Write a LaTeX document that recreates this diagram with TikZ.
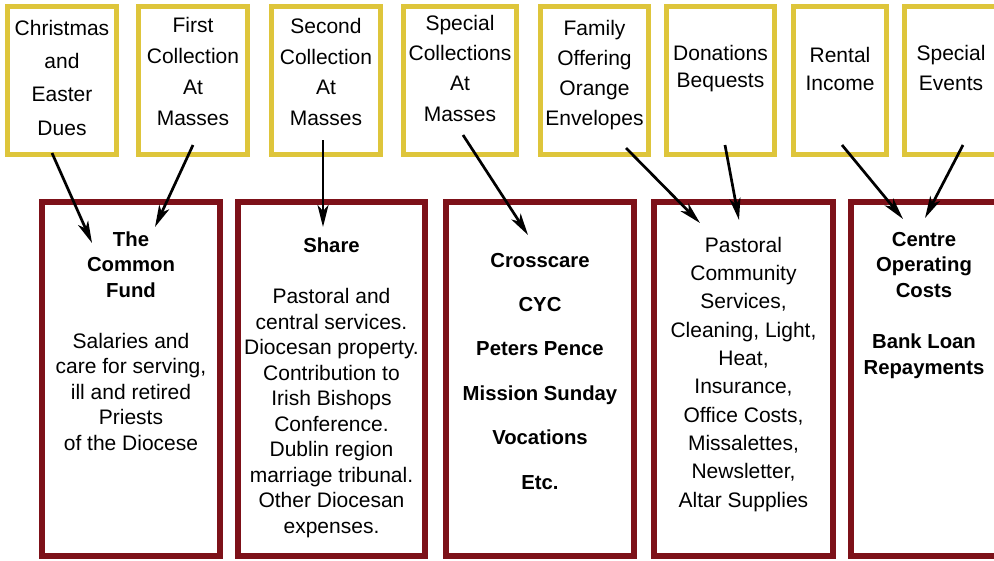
\documentclass[tikz,border=0pt]{standalone}
\usepackage{fontspec}
\setmainfont{Liberation Sans}
\usetikzlibrary{arrows.meta}
\definecolor{boxyellow}{RGB}{222,197,59}
\definecolor{boxred}{RGB}{125,17,25}
\begin{document}
\begin{tikzpicture}[x=1pt,y=-1pt,
  ybox/.style={draw=boxyellow, line width=5pt, fill=white, inner sep=0pt, outer sep=0pt},
  rbox/.style={draw=boxred, line width=6pt, fill=white, inner sep=0pt, outer sep=0pt},
  txt/.style={align=center, anchor=base, inner sep=0pt, font=\fontsize{21}{#1}\selectfont},
  btxt/.style={align=center, anchor=base, inner sep=0pt, font=\fontsize{20.3}{#1}\selectfont\bfseries},
  arr/.style={-{Stealth[length=22pt,width=11pt,inset=6pt]}, line width=2.7pt, black}]
\useasboundingbox (0,0) rectangle (994,560);
\clip (0,0) rectangle (994,560);
\fill[white] (0,0) rectangle (994,560);
% top boxes
\node[ybox, minimum width=109pt, minimum height=148pt] (christmas) at (62,80.5) {};
\node[ybox, minimum width=109pt, minimum height=148pt] (first) at (193,80.5) {};
\node[ybox, minimum width=109pt, minimum height=148pt] (second) at (326,80.5) {};
\node[ybox, minimum width=113.5pt, minimum height=148pt] (speccoll) at (459.75,80.5) {};
\node[ybox, minimum width=108pt, minimum height=148pt] (family) at (594.5,80.5) {};
\node[ybox, minimum width=108pt, minimum height=148pt] (donations) at (720.5,80.5) {};
\node[ybox, minimum width=93pt, minimum height=148pt] (rental) at (840,80.5) {};
\node[ybox, minimum width=93pt, minimum height=148pt] (events) at (951,80.5) {};
% top texts (anchor = baseline of last line)
\node[txt=33.3] (christmas-t) at (62,135) {Christmas\\and\\Easter\\Dues};
\node[txt=30.7] (first-t) at (193,125) {First\\Collection\\At\\Masses};
\node[txt=30.5] (second-t) at (326,125) {Second\\Collection\\At\\Masses};
\node[txt=30.3] (speccoll-t) at (460,121) {Special\\Collections\\At\\Masses};
\node[txt=30] (family-t) at (594.5,125) {Family\\Offering\\Orange\\Envelopes};
\node[txt=27] (donations-t) at (720.5,87) {Donations\\Bequests};
\node[txt=28] (rental-t) at (840,90) {Rental\\Income};
\node[txt=30] (events-t) at (951,90) {Special\\Events};
% bottom boxes
\node[rbox, minimum width=178pt, minimum height=354pt] (common) at (131,379) {};
\node[rbox, minimum width=187pt, minimum height=354pt] (share) at (331.5,379) {};
\node[rbox, minimum width=188pt, minimum height=354pt] (crosscare) at (540,379) {};
\node[rbox, minimum width=179pt, minimum height=354pt] (pastoral) at (743.5,379) {};
\node[rbox, minimum width=146pt, minimum height=354pt] (centre) at (924,379) {};
% bottom texts (anchor = baseline of last line)
\node[btxt=25.5] (common-h) at (131,297) {The\\Common\\Fund};
\node[txt=25.5] (common-t) at (131,450) {Salaries and\\care for serving,\\ill and retired\\Priests\\of the Diocese};
\node[btxt=25.5] (share-h) at (331.5,252) {Share};
\node[txt=25.5] (share-t) at (331.5,533) {Pastoral and\\central services.\\Diocesan property.\\Contribution to\\Irish Bishops\\Conference.\\Dublin region\\marriage tribunal.\\Other Diocesan\\expenses.};
\node[btxt=44.4] (crosscare-t) at (540,489) {Crosscare\\CYC\\Peters Pence\\Mission Sunday\\Vocations\\Etc.};
\node[txt=28.3] (pastoral-t) at (743.5,507) {Pastoral\\Community\\Services,\\Cleaning, Light,\\Heat,\\Insurance,\\Office Costs,\\Missalettes,\\Newsletter,\\Altar Supplies};
\node[btxt=25.5] (centre-h) at (924,297) {Centre\\Operating\\Costs};
\node[btxt=26] (centre-t) at (924,374) {Bank Loan\\Repayments};
% arrow end points
\coordinate (a1s) at (52,153);   \coordinate (a1e) at (92,243);
\coordinate (a2s) at (193,145);  \coordinate (a2e) at (155,227);
\coordinate (a3s) at (323,140);  \coordinate (a3e) at (323,227);
\coordinate (a4s) at (463,135);  \coordinate (a4e) at (528,235);
\coordinate (a5s) at (626,148);  \coordinate (a5e) at (700,223);
\coordinate (a6s) at (725,145);  \coordinate (a6e) at (739,220);
\coordinate (a7s) at (842,145);  \coordinate (a7e) at (903,219);
\coordinate (a8s) at (963,145);  \coordinate (a8e) at (925,218);
\draw[arr] (a1s) -- (a1e);
\draw[arr] (a2s) -- (a2e);
\draw[arr] (a3s) -- (a3e);
\draw[arr] (a4s) -- (a4e);
\draw[arr] (a5s) -- (a5e);
\draw[arr] (a6s) -- (a6e);
\draw[arr] (a7s) -- (a7e);
\draw[arr] (a8s) -- (a8e);
\end{tikzpicture}
\end{document}
